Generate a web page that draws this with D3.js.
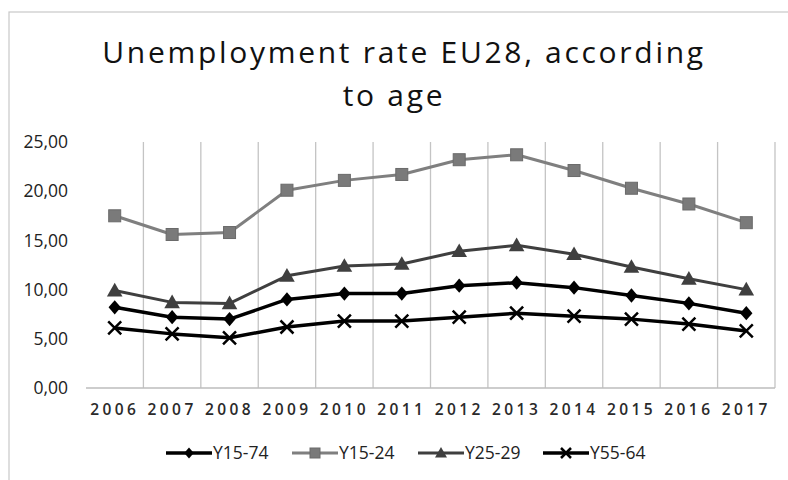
<!DOCTYPE html>
<html>
<head>
<meta charset="utf-8">
<script src="https://cdn.jsdelivr.net/npm/d3@7"></script>
<style>
  body { margin: 0; background: #fff; }
  svg { font-family: "Open Sans", "Noto Sans", sans-serif; }
</style>
</head>
<body>
<svg id="chart" width="788" height="480"></svg>
<script>
// Data
const years = ['2006', '2007', '2008', '2009', '2010', '2011', '2012', '2013', '2014', '2015', '2016', '2017'];
const y15_74 = [8.2, 7.2, 7.0, 9.0, 9.6, 9.6, 10.4, 10.7, 10.2, 9.4, 8.6, 7.6];
const y15_24 = [17.5, 15.6, 15.8, 20.1, 21.1, 21.7, 23.2, 23.7, 22.1, 20.3, 18.7, 16.8];
const y25_29 = [9.9, 8.7, 8.6, 11.4, 12.4, 12.6, 13.9, 14.5, 13.6, 12.3, 11.1, 10.0];
const y55_64 = [6.1, 5.5, 5.1, 6.2, 6.8, 6.8, 7.2, 7.6, 7.3, 7.0, 6.5, 5.8];
const yTicks = [0, 5, 10, 15, 20, 25];

const series = [
    { name: 'Y15-74', values: y15_74, color: '#000', width: 3.5, marker: 'diamond' },
    { name: 'Y15-24', values: y15_24, color: '#7f7f7f', width: 3, marker: 'square' },
    { name: 'Y25-29', values: y25_29, color: '#3f3f3f', width: 3, marker: 'triangle' },
    { name: 'Y55-64', values: y55_64, color: '#000', width: 3.5, marker: 'cross' }
];

let svg = d3.select('svg#chart');

// chart border
svg.append('rect')
    .attr('x', 9).attr('y', 12)
    .attr('width', 800).attr('height', 500)
    .attr('fill', 'none')
    .attr('stroke', '#c8c8c8')
    .attr('stroke-width', 1.2);

// title
let title = svg.append('text')
    .attr('text-anchor', 'middle')
    .attr('font-size', 30)
    .attr('fill', '#111')
    .attr('letter-spacing', 2.7);
title.append('tspan').attr('x', 404).attr('y', 63).text('Unemployment rate EU28, according');
title.append('tspan').attr('x', 394).attr('y', 106).text('to age');

let x = d3.scaleBand().domain(years).range([86, 775]);
let y = d3.scaleLinear().domain([0, 25]).range([388, 142]);

// vertical gridlines at band edges
let edges = years.map(d => x(d)).concat([x.range()[1]]);
svg.append('g').selectAll('line')
    .data(edges.slice(1))
    .join('line')
    .attr('x1', d => d).attr('x2', d => d)
    .attr('y1', y(25)).attr('y2', y(0))
    .attr('stroke', '#c4c4c4')
    .attr('stroke-width', 1.3);

// x axis line
svg.append('line')
    .attr('x1', 86).attr('x2', 775)
    .attr('y1', y(0)).attr('y2', y(0))
    .attr('stroke', '#bdbdbd')
    .attr('stroke-width', 1.5);

// y labels
let yAxis = d3.axisLeft(y).tickValues(yTicks)
    .tickSize(0).tickPadding(18)
    .tickFormat(d => d3.format('.2f')(d).replace('.', ','));
svg.append('g')
    .attr('transform', 'translate(86,0)')
    .call(yAxis)
    .call(g => g.select('.domain').remove())
    .selectAll('text')
    .attr('font-size', 17.5)
    .attr('font-family', '"Open Sans", sans-serif')
    .attr('fill', '#222');

// x labels
let xAxis = d3.axisBottom(x).tickSize(0).tickPadding(16);
svg.append('g')
    .attr('transform', 'translate(0,' + y(0) + ')')
    .call(xAxis)
    .call(g => g.select('.domain').remove())
    .selectAll('text')
    .attr('font-size', 15.5)
    .attr('font-family', '"Open Sans", sans-serif')
    .attr('font-weight', 600)
    .attr('letter-spacing', 3.4)
    .attr('fill', '#2a2a2a');

function drawMarker(g, type, color, size) {
    let h = size / 2;
    if (type === 'diamond') {
        g.append('path')
            .attr('d', 'M0,' + (-h * 1.1) + 'L' + (h * 0.95) + ',0L0,' + (h * 1.1) + 'L' + (-h * 0.95) + ',0Z')
            .attr('fill', color);
    } else if (type === 'square') {
        g.append('rect')
            .attr('x', -h).attr('y', -h)
            .attr('width', size).attr('height', size)
            .attr('fill', '#7a7a7a')
            .attr('stroke', '#6a6a6a')
            .attr('stroke-width', 1);
    } else if (type === 'triangle') {
        g.append('path')
            .attr('d', 'M0,' + (-size * 0.6) + 'L' + (size * 0.6) + ',' + (size * 0.45) + 'L' + (-size * 0.6) + ',' + (size * 0.45) + 'Z')
            .attr('fill', color);
    } else if (type === 'cross') {
        g.append('path')
            .attr('d', 'M' + (-h) + ',' + (-h) + 'L' + h + ',' + h + 'M' + (-h) + ',' + h + 'L' + h + ',' + (-h))
            .attr('stroke', color)
            .attr('stroke-width', 2.5)
            .attr('fill', 'none');
    }
}

let line = d3.line()
    .x((d, i) => x(years[i]) + x.bandwidth() / 2)
    .y(d => y(d));

// draw order: back to front like the reference
let order = [1, 2, 0, 3];
order.forEach(k => {
    let s = series[k];
    svg.append('path')
        .datum(s.values)
        .attr('d', line)
        .attr('fill', 'none')
        .attr('stroke', s.color)
        .attr('stroke-width', s.width)
        .attr('stroke-linejoin', 'round');
    s.values.forEach((v, i) => {
        let g = svg.append('g')
            .attr('transform', 'translate(' + (x(years[i]) + x.bandwidth() / 2) + ',' + y(v) + ')');
        drawMarker(g, s.marker, s.color, s.marker === 'square' ? 12 : 13);
    });
});

// legend
let legendX = [166, 292, 418, 543];
series.forEach((s, i) => {
    let g = svg.append('g').attr('transform', 'translate(' + legendX[i] + ',453)');
    g.append('line')
        .attr('x1', 0).attr('x2', 46)
        .attr('stroke', s.color)
        .attr('stroke-width', s.width);
    let m = g.append('g').attr('transform', 'translate(23,0)');
    drawMarker(m, s.marker, s.color, 10);
    g.append('text')
        .attr('x', 47).attr('y', 6)
        .attr('font-size', 17.5)
        .attr('fill', '#222')
        .text(s.name);
});
</script>
</body>
</html>
